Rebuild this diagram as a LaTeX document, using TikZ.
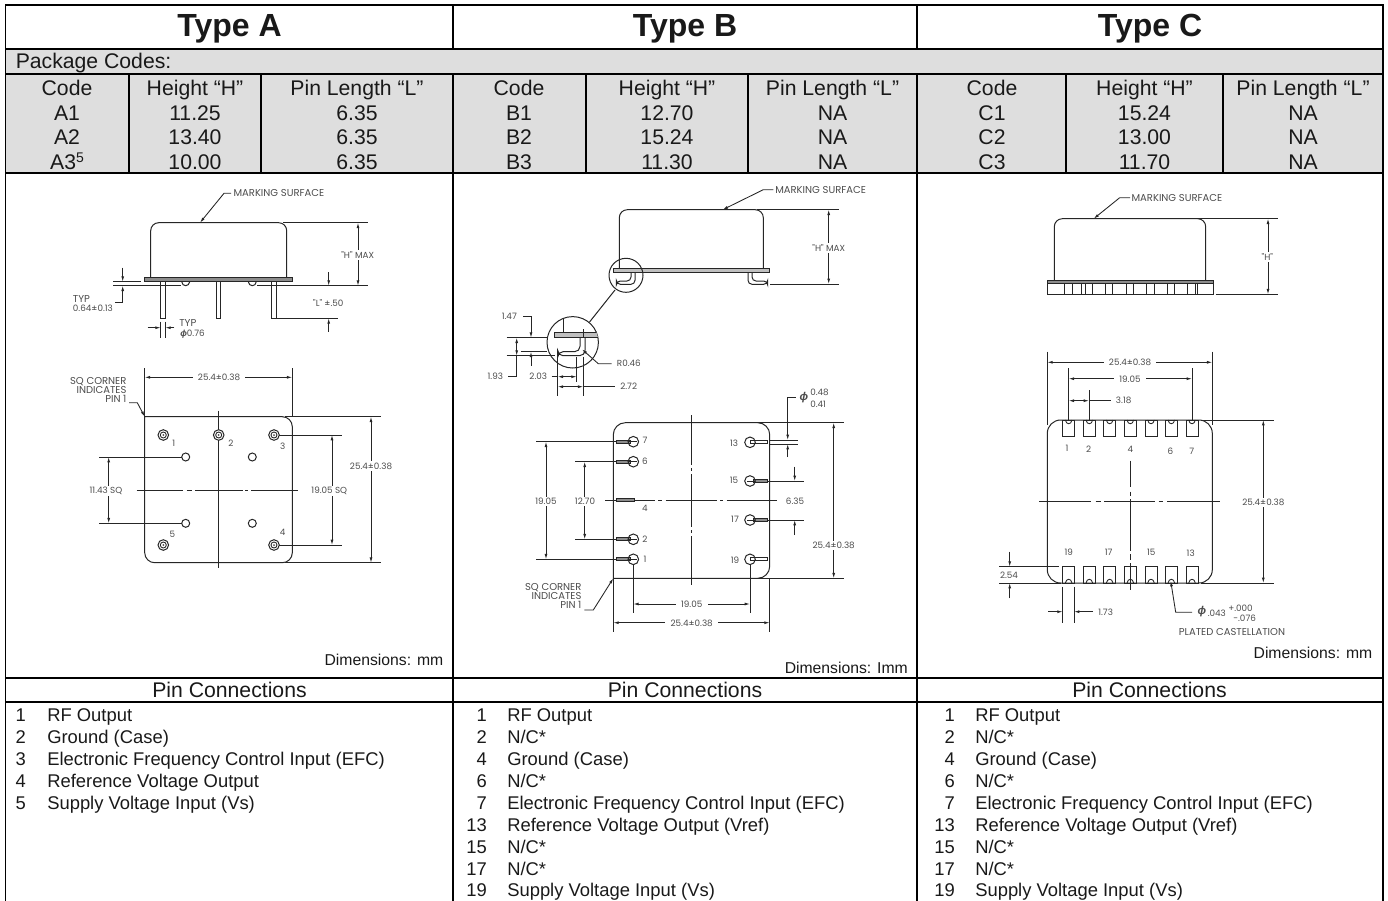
\documentclass[tikz,border=0pt]{standalone}
\usepackage{fontspec}
\usepackage{tikz}
\usetikzlibrary{arrows.meta}
\setmainfont{Liberation Sans}
\newfontfamily\dimfont{Poppins}
\newcommand{\phisym}{{\normalfont\itshape\bfseries ϕ}}
\newcommand{\bigphi}{{\normalfont\itshape\bfseries\fontsize{8.5}{9}\selectfont ϕ}}
\newcommand{\nc}{N/C*}

\begin{document}
\begin{tikzpicture}[
		x=0.75pt, y=-0.75pt,
		>={Latex[length=4pt,width=2.2pt]},
		every node/.style={inner sep=0pt, text=black!90},
		tblline/.style={line width=1.2pt, black},
		partline/.style={line width=0.75pt, black!85},
		dimline/.style={line width=0.65pt, black!85},
		pinfill/.style={partline, fill=black!45},
		title/.style={font=\fontsize{24}{26}\selectfont\bfseries, anchor=base},
		cell/.style={font=\fontsize{15.9}{18}\selectfont, anchor=base},
		pintext/.style={font=\fontsize{13.8}{16}\selectfont, anchor=base west},
		pinnum/.style={font=\fontsize{13.8}{16}\selectfont, anchor=base east},
		dimsize/.style={font=\fontsize{11.8}{14}\selectfont, anchor=base east},
		dimtext/.style={font=\dimfont\fontsize{6.6}{7.5}\selectfont, text=black!70},
		capstext/.style={font=\dimfont\fontsize{7.5}{8.5}\selectfont, text=black!70},
		dimback/.style={dimtext, fill=white, inner sep=1pt},
		sqcorner/.style={capstext, align=right, anchor=north east}
	]
  \useasboundingbox (0,0) rectangle (1388,900);
  \fill[black!13] (5.5,49) rectangle (1383,173);

  \node (typeA) [title] at (229.5,36.7) {Type A};
  \node (typeB) [title] at (685,36.7) {Type B};
  \node (typeC) [title] at (1150,36.7) {Type C};
  \node (codes) [cell, anchor=base west] at (15.5,68) {Package Codes:};

  \foreach \ypos/\code/\hgt/\plen in {95/Code/Height “H”/Pin Length “L”, 120/A1/11.25/6.35, 144.5/A2/13.40/6.35, 169/{A3\raisebox{0.55ex}{\fontsize{10.5}{12}\selectfont 5}}/10.00/6.35} {
    \node (a\ypos) [cell] at (67,\ypos) {\code};
    \node (h\ypos) [cell] at (195,\ypos) {\hgt};
    \node (l\ypos) [cell] at (357,\ypos) {\plen};
  }
  \foreach \ypos/\code/\hgt/\plen in {95/Code/Height “H”/Pin Length “L”, 120/B1/12.70/NA, 144.5/B2/15.24/NA, 169/B3/11.30/NA} {
    \node (b\ypos) [cell] at (519,\ypos) {\code};
    \node (bh\ypos) [cell] at (667,\ypos) {\hgt};
    \node (bl\ypos) [cell] at (832.5,\ypos) {\plen};
  }
  \foreach \ypos/\code/\hgt/\plen in {95/Code/Height “H”/Pin Length “L”, 120/C1/15.24/NA, 144.5/C2/13.00/NA, 169/C3/11.70/NA} {
    \node (c\ypos) [cell] at (992,\ypos) {\code};
    \node (ch\ypos) [cell] at (1144.5,\ypos) {\hgt};
    \node (cl\ypos) [cell] at (1303,\ypos) {\plen};
  }

  \draw[tblline] (5.5,5) rectangle (1383,905);
  \foreach \ypos in {49,74,173,678,702}
    \draw[tblline] (5.5,\ypos) -- (1383,\ypos);
  \foreach \xpos in {453,917}
    \draw[tblline] (\xpos,5) -- (\xpos,49) (\xpos,74) -- (\xpos,173) (\xpos,173) -- (\xpos,905);
  \foreach \xpos in {129,261,586,748,1066,1223}
    \draw[tblline] (\xpos,74) -- (\xpos,173);

  \node (pinsA) [cell] at (229.5,697) {Pin Connections};
  \node (pinsB) [cell] at (685,697) {Pin Connections};
  \node (pinsC) [cell] at (1149.5,697) {Pin Connections};
  \node (dimA) [dimsize] at (443.5,665) {Dimensions: mm};
  \node (dimB) [dimsize] at (908,673) {Dimensions: Imm};
  \node (dimC) [dimsize] at (1372.5,658) {Dimensions: mm};

  \foreach \i/\num/\txt in {0/1/RF Output, 1/2/Ground (Case), 2/3/Electronic Frequency Control Input (EFC), 3/4/Reference Voltage Output, 4/5/Supply Voltage Input (Vs)} {
    \node (numA\i) [pinnum] at (26,721.7+21.9*\i) {\num};
    \node (txtA\i) [pintext] at (47,721.7+21.9*\i) {\txt};
  }
  \foreach \xnum/\xtxt/\tp in {487/507/B, 955/975/C}
    \foreach \i/\num/\txt in {0/1/RF Output, 1/2/\nc, 2/4/Ground (Case), 3/6/\nc, 4/7/Electronic Frequency Control Input (EFC), 5/13/Reference Voltage Output (Vref), 6/15/\nc, 7/17/\nc, 8/19/Supply Voltage Input (Vs)} {
      \node (num\tp\i) [pinnum] at (\xnum,721.7+21.9*\i) {\num};
      \node (txt\tp\i) [pintext] at (\xtxt,721.7+21.9*\i) {\txt};
    }

  % type A side view
  \draw[partline, rounded corners=6pt] (150.7,277.7) -- (150.7,222.7) -- (286.7,222.7) -- (286.7,277.7);
  \draw[pinfill] (144.7,277.7) rectangle (292.7,281.7);
  \foreach \xpos in {160.7,216.3,271.7}
    \draw[partline] (\xpos,281.7) rectangle ++(4.6,36.6);
  \foreach \xpos in {185.7,252.3}
    \draw[partline] (\xpos-4,281.7) .. controls (\xpos-3.5,287) and (\xpos+3.5,287) .. (\xpos+4,281.7);
  \draw[dimline] (113,281.7) -- (141,281.7) (113,285.7) -- (181,285.7) (257,285.7) -- (367.7,285.7);
  \draw[dimline, ->] (122.7,267.7) -- (122.7,281.7);
  \draw[dimline, ->] (115,302.7) -- (122.7,302.7) -- (122.7,285.7);
  \node (typA) [capstext, anchor=west] at (72.7,299) {TYP};
  \node (tolA) [dimtext, anchor=west] at (72.7,308.5) {0.64±0.13};
  \draw[dimline, ->] (231,193.3) -- (224,193.3) -- (200,222.7);
  \node (markA) [capstext, anchor=west] at (233.3,193.3) {MARKING SURFACE};
  \draw[dimline] (283,222.7) -- (367.7,222.7);
  \draw[dimline, <->] (358,222.7) -- (358,285.7);
  \node (hA) [dimback] at (357.7,255) {"H" MAX};
  \draw[dimline] (277.3,318.3) -- (338.3,318.3);
  \draw[dimline, ->] (328.7,272.3) -- (328.7,285.7);
  \draw[dimline, ->] (328.7,331.7) -- (328.7,318.3);
  \node (lA) [dimtext] at (328.3,303.3) {"L" ±.50};
  \draw[dimline] (160.7,321.7) -- (160.7,337.7) (165.3,321.7) -- (165.3,337.7);
  \draw[dimline, ->] (147.7,327.7) -- (160.7,327.7);
  \draw[dimline, ->] (174.3,327.7) -- (165.3,327.7);
  \node (typB) [capstext, anchor=west] at (179,323.3) {TYP};
  \node (phiA) [dimtext, anchor=west] at (180,334) {\phisym0.76};

  % type A pin view
  \draw[partline] (200,416.7) [rounded corners=7.5pt] -- (292.3,416.7) -- (292.3,562.7) -- (144.7,562.7) -- (144.7,500) [sharp corners] -- (144.7,416.7) -- cycle;
  \draw[dimline] (218.7,410.7) -- (218.7,568.3);
  \foreach \xa/\xb in {136.7/183.3,186.7/191.7,195/243,245/248,251/297.7}
    \draw[dimline] (\xa,490) -- (\xb,490);
  \foreach \xpos/\ypos in {163.3/435,218.7/435,274/435,163.3/545,274/545} {
    \draw[partline, fill=white] (\xpos,\ypos) circle (5.3);
    \draw[dimline] (\xpos,\ypos) circle (3);
    \fill[black!70] (\xpos,\ypos) circle (1);
  }
  \foreach \xpos/\ypos in {185.7/457,252.3/457,185.7/523.3,252.3/523.3}
    \draw[partline] (\xpos,\ypos) circle (4);
  \foreach \num/\xpos/\ypos in {1/173.7/443.3,2/231/443.3,3/282.7/446.7,4/282.7/532.7,5/172.3/534.7}
    \node (pa\num) [dimtext] at (\xpos,\ypos) {\num};
  \draw[dimline] (144.7,368.3) -- (144.7,416.7) (292.3,368.3) -- (292.3,416.7);
  \draw[dimline, <->] (144.7,377.3) -- (292.3,377.3);
  \node (wA) [dimback, inner sep=4pt] at (219,377.3) {25.4±0.38};
  \node (sqA) [sqcorner] at (126.7,377) {SQ CORNER\\[-1.8pt]INDICATES\\[-1.8pt]PIN 1};
  \draw[dimline, ->] (129,402.7) -- (137.3,402.7) -- (144.7,416.7);
  \draw[dimline] (99.3,457) -- (181.7,457) (99.3,523.3) -- (181.7,523.3);
  \draw[dimline, <->] (108.7,457) -- (108.7,523.3);
  \node (sqaA) [dimback] at (106,490.7) {11.43 SQ};
  \draw[dimline] (279,435) -- (341.7,435) (279,545) -- (341.7,545);
  \draw[dimline, <->] (332,435) -- (332,545);
  \node (sqbA) [dimback] at (329.3,490.7) {19.05 SQ};
  \draw[dimline] (285,416.7) -- (380.7,416.7) (285,562.7) -- (380.7,562.7);
  \draw[dimline, <->] (371,416.7) -- (371,562.7);
  \node (hgA) [dimback] at (371,466) {25.4±0.38};

  % type B side view
  \draw[partline, rounded corners=6pt] (619.3,268.3) -- (619.3,209.7) -- (763.3,209.7) -- (763.3,268.3);
  \draw[partline, fill=black!25] (613.3,268.3) rectangle (769.7,272);
  \draw[partline, rounded corners=3pt] (635,272) -- (635,284.3) -- (616.3,284.3) -- (616.3,281) -- (631,281) -- (631,272);
  \draw[partline, rounded corners=3pt] (748,272) -- (748,284.3) -- (767.7,284.3) -- (767.7,281) -- (752,281) -- (752,272);
  \draw[partline] (626,275.3) circle (17);
  \draw[partline] (615,290) -- (589.3,322.3);
  \draw[partline] (572.7,342.3) circle (25.7);
  \begin{scope}
    \clip (572.7,342.3) circle (25.7);
    \draw[partline, fill=black!25] (554,332.3) rectangle (600,337.7);
    \draw[partline] (563.3,319) -- (563.3,332.3) (583.3,329) -- (583.3,337.7);
    \draw[partline, rounded corners=4pt] (585,337.7) -- (585,355.7) -- (557.7,355.7) -- (557.7,351.7) -- (580,351.7) -- (580,337.7);
  \end{scope}
  \draw[dimline, ->] (773.3,189.7) -- (763.3,189.7) -- (722.7,209.7);
  \node (markB) [capstext, anchor=west] at (775,190.3) {MARKING SURFACE};
  \draw[dimline] (757,209.7) -- (839,209.7) (770.3,284) -- (839,284);
  \draw[dimline, <->] (828.7,209.7) -- (828.7,284);
  \node (hB) [dimback] at (828.7,247.7) {"H" MAX};
  \draw[dimline] (506.7,337.7) -- (546.7,337.7) (520.7,351.7) -- (546.7,351.7) (506.7,355.7) -- (555,355.7);
  \draw[dimline, ->] (523.3,316.3) -- (531,316.3) -- (531,337.7);
  \draw[dimline, ->] (531,365.7) -- (531,351.7);
  \draw[dimline, <->] (516.7,337.7) -- (516.7,355.7);
  \draw[dimline] (516.7,355.7) -- (516.7,376.7) -- (508.3,376.7);
  \node (ltA) [dimtext] at (509.3,316.3) {1.47};
  \node (ltB) [dimtext] at (495.3,376.7) {1.93};
  \draw[dimline] (557.7,356.7) -- (557.7,395.7) (576.7,356.7) -- (576.7,381.7) (583.3,356.7) -- (583.3,395.7);
  \draw[dimline] (551.7,376.7) -- (557.7,376.7);
  \draw[dimline, <->] (557.7,376.7) -- (576.7,376.7);
  \node (ltC) [dimtext] at (538.3,376.7) {2.03};
  \draw[dimline] (583.3,386.7) -- (615,386.7);
  \draw[dimline, <->] (557.7,386.7) -- (583.3,386.7);
  \node (ltD) [dimtext] at (628.7,386.7) {2.72};
  \draw[dimline, ->] (611.7,363.7) -- (598.3,363.7) -- (582,349.3);
  \node (ltE) [dimtext, anchor=west] at (616.7,363.7) {R0.46};

  % type B pin view
  \draw[partline] (613.3,500) [rounded corners=9pt] -- (613.3,422.7) -- (769.7,422.7) -- (769.7,578.3) -- (700,578.3) [sharp corners] -- (613.3,578.3) -- cycle;
  \foreach \ya/\yb in {415/465,468.3/470.7,474/526.7,530/532.7,536/585}
    \draw[dimline] (691.7,\ya) -- (691.7,\yb);
  \foreach \xa/\xb in {605/655,658.3/661.7,665.7/717,720/722.7,726.7/777.3}
    \draw[dimline] (\xa,500.3) -- (\xb,500.3);
  \foreach \ypos in {441.7,461.7,539.3,559.3} {
    \draw[pinfill] (616.3,\ypos-1.5) rectangle (630,\ypos+1.5);
    \draw[partline] (633.3,\ypos) circle (5.3);
    \draw[partline] (628,\ypos) -- (636.5,\ypos);
  }
  \draw[pinfill] (616.3,498.8) rectangle (634.3,501.8);
  \foreach \ypos in {481,520} {
    \draw[pinfill] (753,\ypos-1.5) rectangle (767.7,\ypos+1.5);
    \draw[partline] (750,\ypos) circle (5.3);
    \draw[partline] (747,\ypos) -- (755,\ypos);
  }
  \foreach \ypos in {442.3,559.3} {
    \draw[partline] (750,\ypos-1.5) rectangle (767.7,\ypos+1.5);
    \draw[partline] (750,\ypos) circle (5.3);
  }
  \foreach \num/\xpos/\ypos in {7/645/440.7,6/645/461.3,4/645/508.7,2/645/539.3,1/645/559.3,13/734/443,15/734/480.7,17/735/519.3,19/735/560}
    \node (pb\num) [dimtext] at (\xpos,\ypos) {\num};
  \draw[dimline] (536,441.7) -- (616,441.7) (536,559.3) -- (616,559.3) (575,461.7) -- (616,461.7) (575,539.3) -- (616,539.3);
  \draw[dimline, <->] (546,441.7) -- (546,559.3);
  \draw[dimline, <->] (584.7,461.7) -- (584.7,539.3);
  \node (vaB) [dimback] at (546,501.7) {19.05};
  \node (vbB) [dimback] at (585,501.7) {12.70};
  \draw[dimline] (767,481) -- (804.3,481) (767,520) -- (804.3,520);
  \draw[dimline, ->] (794.7,466.7) -- (794.7,481);
  \draw[dimline, ->] (794.7,535) -- (794.7,520);
  \node (vcB) [dimtext] at (795,501.7) {6.35};
  \draw[dimline] (758,422.7) -- (844,422.7) (700,578.3) -- (844,578.3);
  \draw[dimline, <->] (833.7,422.7) -- (833.7,578.3);
  \node (vdB) [dimback] at (833.7,545.7) {25.4±0.38};
  \draw[dimline] (633.3,564) -- (633.3,613.3) (750,564) -- (750,613.3);
  \draw[dimline, <->] (633.3,604) -- (750,604);
  \node (waB) [dimback, inner sep=4pt] at (691.7,604.7) {19.05};
  \draw[dimline] (613.3,578.3) -- (613.3,632.3) (769.7,578.3) -- (769.7,632.3);
  \draw[dimline, <->] (613.3,622.7) -- (769.7,622.7);
  \node (wbB) [dimback, inner sep=4pt] at (691.7,623.7) {25.4±0.38};
  \node (sqB) [sqcorner] at (581.7,583) {SQ CORNER\\[-1.8pt]INDICATES\\[-1.8pt]PIN 1};
  \draw[dimline, ->] (584.3,610) -- (593.3,610) -- (613.3,578.3);
  \draw[dimline] (770,440) -- (797.7,440) (770,444) -- (797.7,444);
  \draw[dimline, ->] (795.7,397.7) -- (787.7,397.7) -- (787.7,440);
  \draw[dimline, ->] (787.7,457) -- (787.7,444);
  \node (phiB) [dimtext] at (804,398) {\bigphi};
  \node (phaB) [dimtext, anchor=west] at (810,392) {0.48};
  \node (phbB) [dimtext, anchor=west] at (810,404) {0.41};

  % type C side view
  \draw[partline, rounded corners=6pt] (1054.3,280) -- (1054.3,218.7) -- (1205.7,218.7) -- (1205.7,280);
  \draw[pinfill] (1047.3,280.3) rectangle (1213,283.3);
  \draw[partline] (1047.3,283.3) rectangle (1213,294.3);
  \foreach \xpos in {1064.7,1072,1081.3,1085.7,1092.7,1105.5,1112.7,1126,1133.3,1146.3,1154,1167,1174,1187.7,1195,1197.3}
    \draw[dimline] (\xpos,283.3) -- (\xpos,294.3);
  \draw[dimline, ->] (1130,197.7) -- (1119.7,197.7) -- (1093.7,218.7);
  \node (markC) [capstext, anchor=west] at (1131.3,197.7) {MARKING SURFACE};
  \draw[dimline] (1197.3,218.7) -- (1278,218.7) (1215.7,294.3) -- (1278,294.3);
  \draw[dimline, <->] (1268,218.7) -- (1268,294.3);
  \node (hC) [dimback] at (1267.3,257.3) {"H"};

  % type C pin view
  \draw[partline, rounded corners=10pt] (1047.3,420) rectangle (1212.3,583);
  \foreach \xpx in {434,496,557,619,681,742,804} {
    \draw[partline] ({918+\xpx/3},420) rectangle ++(12,16.7);
    \draw[partline] ({918+\xpx/3},566.7) rectangle ++(12,16.3);
    \draw[dimline] ({918+\xpx/3+2.7},420) .. controls ({918+\xpx/3+3.5},425) and ({918+\xpx/3+8.5},425) .. ({918+\xpx/3+9.3},420);
    \draw[dimline] ({918+\xpx/3+2.7},583) .. controls ({918+\xpx/3+3.5},578) and ({918+\xpx/3+8.5},578) .. ({918+\xpx/3+9.3},583);
  }
  \foreach \ya/\yb in {460.7/487.3,491.7/496,499.3/550.7,554/560,563.3/590}
    \draw[dimline] (1130,\ya) -- (1130,\yb);
  \foreach \xa/\xb in {1039/1091.3,1095.7/1100.7,1104/1155.3,1158.7/1163,1167/1219.7}
    \draw[dimline] (\xa,501.3) -- (\xb,501.3);
  \foreach \num/\xpos/\ypos in {1/1067/448.7,2/1088.7/449.3,4/1130.3/449.3,6/1170.3/451.7,7/1191.7/451,19/1068.7/552.7,17/1108.7/552.7,15/1151.3/552.7,13/1190.7/553.7}
    \node (pc\num) [dimtext] at (\xpos,\ypos) {\num};
  \draw[dimline] (1047.3,351.7) -- (1047.3,425) (1212.3,351.7) -- (1212.3,425);
  \draw[dimline, <->] (1047.3,362.3) -- (1212.3,362.3);
  \node (waC) [dimback, inner sep=4pt] at (1130,362.3) {25.4±0.38};
  \draw[dimline] (1068.7,368.3) -- (1068.7,421) (1192,368.3) -- (1192,421);
  \draw[dimline, <->] (1068.7,378.7) -- (1192,378.7);
  \node (wbC) [dimback, inner sep=4pt] at (1130,379.3) {19.05};
  \draw[dimline] (1089,390) -- (1089,421);
  \draw[dimline, <->] (1068.7,400.7) -- (1089,400.7);
  \draw[dimline] (1089,400.7) -- (1110.7,400.7);
  \node (wcC) [dimtext, anchor=west] at (1115.7,400.7) {3.18};
  \draw[dimline] (1201.3,420) -- (1273.7,420) (1201.3,583) -- (1273.7,583);
  \draw[dimline, <->] (1263.3,420) -- (1263.3,583);
  \node (hgC) [dimback] at (1263.3,502.7) {25.4±0.38};
  \draw[dimline] (999,566.7) -- (1058.7,566.7) (999,583) -- (1061.3,583);
  \draw[dimline, ->] (1009.7,551.7) -- (1009.7,566.7);
  \draw[dimline, ->] (1009.7,598.3) -- (1009.7,583);
  \node (sideC) [dimtext] at (1009,575.7) {2.54};
  \draw[dimline] (1062.7,586.7) -- (1062.7,622.7) (1074,586.7) -- (1074,622.7);
  \draw[dimline, ->] (1048,611.7) -- (1062.7,611.7);
  \draw[dimline, ->] (1093,611.7) -- (1074,611.7);
  \node (castC) [dimtext, anchor=west] at (1098,612) {1.73};
  \draw[dimline, ->] (1192,612.3) -- (1175.7,612.3) -- (1170.7,581);
  \node (phiC) [dimtext] at (1202,612) {\bigphi};
  \node (phaC) [dimtext, anchor=west] at (1207.5,613) {.043};
  \node (phbC) [dimtext, anchor=west] at (1228,608) {+.000};
  \node (phcC) [dimtext, anchor=west] at (1233,618.5) {-.076};
  \node (plateC) [capstext] at (1232,631.7) {PLATED CASTELLATION};
\end{tikzpicture}
\end{document}
